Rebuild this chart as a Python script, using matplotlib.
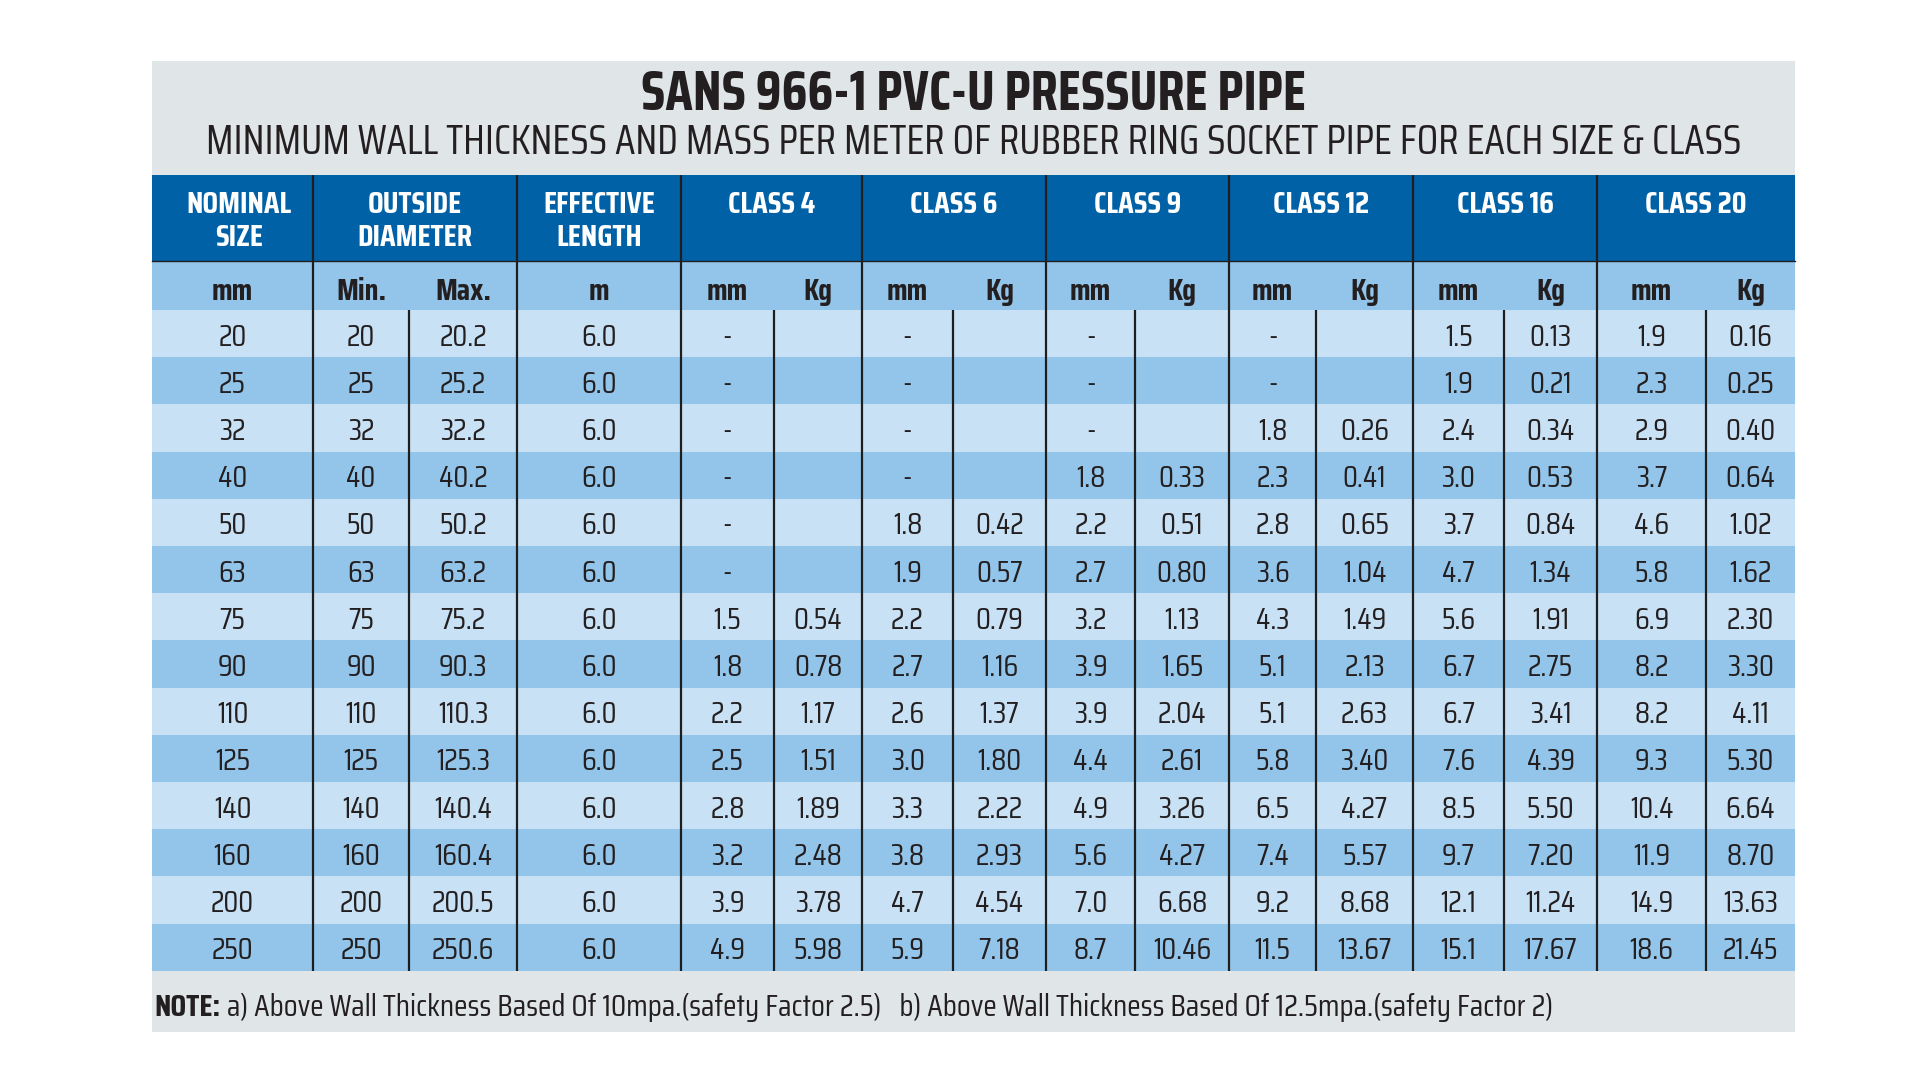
import math
import matplotlib
matplotlib.use('Agg')
from matplotlib import pyplot as plt
from matplotlib import font_manager as fm
from matplotlib import patheffects as pe
from matplotlib.patches import Rectangle
from matplotlib.textpath import TextPath
from matplotlib.font_manager import FontProperties

PX = 100 / 72  # pixels per point at dpi 100


def _wt(w):
    return w if isinstance(w, (int, float)) else fm.weight_dict.get(str(w), 400)


def measure(family, s, bold=False):
    # width and height of the glyph outlines in px for a 1 pt font
    prop = FontProperties(family=family, weight='bold' if bold else 'normal')
    e = TextPath((0, 0), s, size=100, prop=prop).get_extents()
    return e.width / 100 * PX, e.height / 100 * PX


# pick the installed condensed face whose proportions best match Helvetica Condensed
faces = {}
for f in fm.fontManager.ttflist:
    if 'Narrow' in f.name or 'Condensed' in f.name:
        faces.setdefault(f.name, set()).add(_wt(f.weight))
bolds = [n for n, w in faces.items() if max(w) >= 600]
pool = bolds if bolds else list(faces)
has_bold = bool(bolds) or not faces


def _score(name):
    w1, h1 = measure(name, '250.6')
    w2, h2 = measure(name, 'NOMINAL', bool(bolds))
    return abs(math.log(w1 / h1 / 2.7)) + abs(math.log(w2 / h2 / 4.7))


if pool:
    chosen = min(pool, key=_score)
else:
    chosen = 'Liberation Sans'
plt.rcParams['font.family'] = [chosen, 'Liberation Sans', 'DejaVu Sans']

TITLE = 'SANS 966-1 PVC-U PRESSURE PIPE'
SUBTITLE = 'MINIMUM WALL THICKNESS AND MASS PER METER OF RUBBER RING SOCKET PIPE FOR EACH SIZE & CLASS'
NOTE_HEAD = 'NOTE:'
NOTE_BODY = ('a) Above Wall Thickness Based Of 10mpa.(safety Factor 2.5)   '
             'b) Above Wall Thickness Based Of 12.5mpa.(safety Factor 2)')

group_labels = ['NOMINAL\nSIZE', 'OUTSIDE\nDIAMETER', 'EFFECTIVE\nLENGTH', 'CLASS 4', 'CLASS 6',
                'CLASS 9', 'CLASS 12', 'CLASS 16', 'CLASS 20']
unit_labels = ['mm', 'Min.', 'Max.', 'm', 'mm', 'Kg', 'mm', 'Kg', 'mm', 'Kg',
               'mm', 'Kg', 'mm', 'Kg', 'mm', 'Kg']

nominal = [20, 25, 32, 40, 50, 63, 75, 90, 110, 125, 140, 160, 200, 250]
od_min = [20, 25, 32, 40, 50, 63, 75, 90, 110, 125, 140, 160, 200, 250]
od_max = [20.2, 25.2, 32.2, 40.2, 50.2, 63.2, 75.2, 90.3, 110.3, 125.3, 140.4, 160.4, 200.5, 250.6]
eff_length = [6.0] * 14

class4_mm = [None, None, None, None, None, None, 1.5, 1.8, 2.2, 2.5, 2.8, 3.2, 3.9, 4.9]
class4_kg = [None, None, None, None, None, None, 0.54, 0.78, 1.17, 1.51, 1.89, 2.48, 3.78, 5.98]
class6_mm = [None, None, None, None, 1.8, 1.9, 2.2, 2.7, 2.6, 3.0, 3.3, 3.8, 4.7, 5.9]
class6_kg = [None, None, None, None, 0.42, 0.57, 0.79, 1.16, 1.37, 1.80, 2.22, 2.93, 4.54, 7.18]
class9_mm = [None, None, None, 1.8, 2.2, 2.7, 3.2, 3.9, 3.9, 4.4, 4.9, 5.6, 7.0, 8.7]
class9_kg = [None, None, None, 0.33, 0.51, 0.80, 1.13, 1.65, 2.04, 2.61, 3.26, 4.27, 6.68, 10.46]
class12_mm = [None, None, 1.8, 2.3, 2.8, 3.6, 4.3, 5.1, 5.1, 5.8, 6.5, 7.4, 9.2, 11.5]
class12_kg = [None, None, 0.26, 0.41, 0.65, 1.04, 1.49, 2.13, 2.63, 3.40, 4.27, 5.57, 8.68, 13.67]
class16_mm = [1.5, 1.9, 2.4, 3.0, 3.7, 4.7, 5.6, 6.7, 6.7, 7.6, 8.5, 9.7, 12.1, 15.1]
class16_kg = [0.13, 0.21, 0.34, 0.53, 0.84, 1.34, 1.91, 2.75, 3.41, 4.39, 5.50, 7.20, 11.24, 17.67]
class20_mm = [1.9, 2.3, 2.9, 3.7, 4.6, 5.8, 6.9, 8.2, 8.2, 9.3, 10.4, 11.9, 14.9, 18.6]
class20_kg = [0.16, 0.25, 0.40, 0.64, 1.02, 1.62, 2.30, 3.30, 4.11, 5.30, 6.64, 8.70, 13.63, 21.45]

# layout in pixels (figure is 1920x1080)
col_edges = [152, 313, 409, 517, 681, 774, 862, 953, 1046, 1135, 1229, 1316, 1413, 1504, 1597, 1706, 1795]
group_edges = [152, 313, 517, 681, 862, 1046, 1229, 1413, 1597, 1795]
panel = (152, 61, 1795, 1032)
head_top, head_bot, unit_bot, row_h = 175, 261, 310, 47.2

BG = '#e0e5e8'
DARK_BLUE = '#0061a6'
MID_BLUE = '#93c5ea'
LIGHT_BLUE = '#c9e1f5'
LINE = '#1e1e1e'
TXT = '#231f20'


def bold_kw(color, stroke):
    # real bold face when the condensed family has one, else thicken the glyphs
    if has_bold:
        return dict(fontweight='bold', color=color)
    return dict(color=color, path_effects=[pe.withStroke(linewidth=stroke, foreground=color)])


def size_for(s, width, cap, bold=False, cap_text=None, lean=0.7):
    # compromise between the size matching the width and the size matching the cap height,
    # leaning on the width so lines span what they span in the reference
    w, _ = measure(chosen, s, bold and has_bold)
    _, h = measure(chosen, cap_text or s, bold and has_bold)
    sw, sh = width / w, cap / h
    return min(sw ** lean * sh ** (1 - lean), sw * 1.03)


def fmt(v, nd, blank):
    if v is None:
        return blank
    if nd == 0:
        return '%d' % v
    return '%.*f' % (nd, v)


columns = [(nominal, 0, ''), (od_min, 0, ''), (od_max, 1, ''), (eff_length, 1, ''),
           (class4_mm, 1, '-'), (class4_kg, 2, ''), (class6_mm, 1, '-'), (class6_kg, 2, ''),
           (class9_mm, 1, '-'), (class9_kg, 2, ''), (class12_mm, 1, '-'), (class12_kg, 2, ''),
           (class16_mm, 1, '-'), (class16_kg, 2, ''), (class20_mm, 1, '-'), (class20_kg, 2, '')]

title_fs = size_for(TITLE, 668, 35, True, 'SANS', lean=0.9)
sub_fs = size_for(SUBTITLE, 1541, 27, False, 'MINIMUM', lean=0.9)
head_fs = size_for('NOMINAL', 103, 22, True)
unit_fs = size_for('Max.', 53, 21, True, 'M')
data_fs = size_for('250.6', 59, 22.3)
note_fs = size_for(NOTE_HEAD + ' ' + NOTE_BODY, 1391, 19, False, 'NOTE', lean=1.0)

fig = plt.figure(figsize=(19.2, 10.8), dpi=100)
ax = fig.add_axes([0, 0, 1, 1])
ax.set_xlim(0, 1920)
ax.set_ylim(1080, 0)
ax.axis('off')
renderer = fig.canvas.get_renderer()

x0, y0, x1, y1 = panel
ax.add_patch(Rectangle((x0, y0), x1 - x0, y1 - y0, color=BG, lw=0))
ax.add_patch(Rectangle((x0, head_top), x1 - x0, head_bot - head_top, color=DARK_BLUE, lw=0))
ax.add_patch(Rectangle((x0, head_bot), x1 - x0, unit_bot - head_bot, color=MID_BLUE, lw=0))

n_rows = len(nominal)
for i in range(n_rows):
    top = unit_bot + i * row_h
    ax.add_patch(Rectangle((x0, top), x1 - x0, row_h, color=LIGHT_BLUE if i % 2 == 0 else MID_BLUE, lw=0))

table_bot = unit_bot + n_rows * row_h


def put(x, y, s, cap, **kw):
    # y is the visual centre of the capitals: baseline sits half a cap height below
    ax.text(x, y + cap / 2, s, va='baseline', **kw)


# title
put((x0 + x1) / 2, 92, TITLE, 35, ha='center', fontsize=title_fs, **bold_kw(TXT, 2.0))
put((x0 + x1) / 2, 141, SUBTITLE, 27, ha='center', fontsize=sub_fs, color=TXT)

# group header
for k, lab in enumerate(group_labels):
    cx = (group_edges[k] + group_edges[k + 1]) / 2
    if k == 0:
        cx += 7
    for j, part in enumerate(lab.split('\n')):
        put(cx, 202 + 33 * j, part, 22, ha='center', fontsize=head_fs, **bold_kw('white', 1.3))

# unit row
for k, lab in enumerate(unit_labels):
    cx = (col_edges[k] + col_edges[k + 1]) / 2
    put(cx, 289, lab, 21, ha='center', fontsize=unit_fs, **bold_kw(TXT, 1.3))

# body
for k, (vals, nd, blank) in enumerate(columns):
    cx = (col_edges[k] + col_edges[k + 1]) / 2
    for i, v in enumerate(vals):
        cy = unit_bot + (i + 0.5) * row_h + 1
        put(cx, cy, fmt(v, nd, blank), 22, ha='center', fontsize=data_fs, color=TXT)

# grid lines
for x in group_edges[1:-1]:
    ax.plot([x, x], [head_top, table_bot], color=LINE, lw=1.6, solid_capstyle='butt')
for x in col_edges[1:-1]:
    if x not in group_edges:
        ax.plot([x, x], [unit_bot, table_bot], color=LINE, lw=1.6, solid_capstyle='butt')
ax.plot([x0, x1], [head_bot, head_bot], color=LINE, lw=1.0)

# note
note_y = 1007
t = ax.text(154, note_y + 9.5, NOTE_HEAD, ha='left', va='baseline', fontsize=note_fs, **bold_kw(TXT, 1.2))
bb = t.get_window_extent(renderer)
ax.text(bb.x1 + 7, note_y + 9.5, NOTE_BODY, ha='left', va='baseline', fontsize=note_fs, color=TXT)

fig.savefig('out.png', dpi=100, facecolor='white')
